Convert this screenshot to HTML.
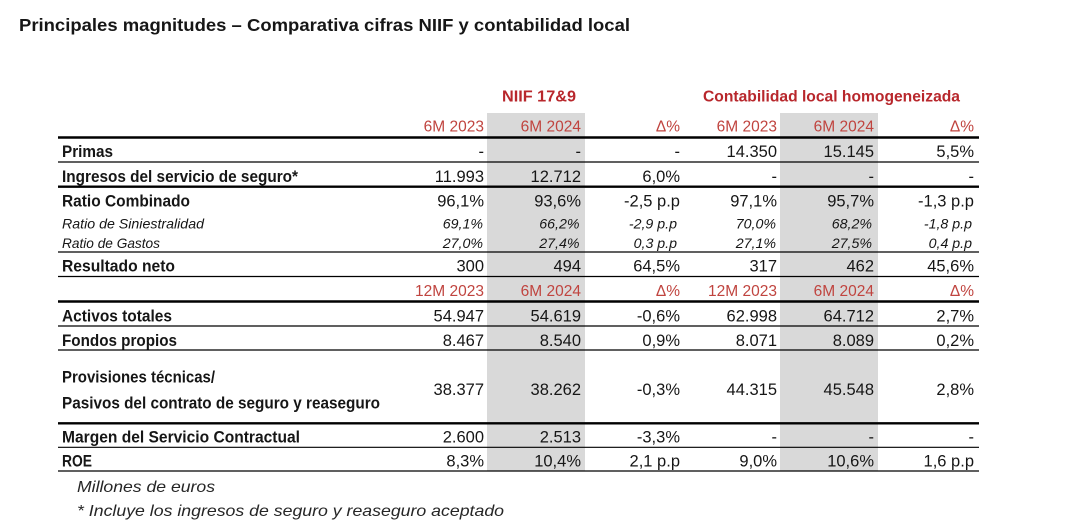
<!DOCTYPE html>
<html>
<head>
<meta charset="utf-8">
<style>
  html,body{margin:0;padding:0;background:#fff;}
  svg{display:block;}
  .t{font-family:"Liberation Sans",sans-serif;fill:#161616;}
  .lb{font-weight:bold;font-size:16.5px;}
  .li{font-style:italic;font-size:14px;}
  .n{font-size:16.5px;text-anchor:end;}
  .ni{font-size:14.2px;font-style:italic;text-anchor:end;}
  .h{font-size:15.5px;text-anchor:end;fill:#c0443f;}
  .hb{font-weight:bold;font-size:16px;fill:#b8272c;}
  .fn{font-style:italic;font-size:16px;fill:#262626;}
</style>
</head>
<body>
<svg width="1081" height="523" viewBox="0 0 1081 523" xmlns="http://www.w3.org/2000/svg">
  <rect x="0" y="0" width="1081" height="523" fill="#fff"/>
  <!-- Title -->
  <text class="t" x="19" y="31" font-weight="bold" font-size="17.5" textLength="611" lengthAdjust="spacingAndGlyphs">Principales magnitudes – Comparativa cifras NIIF y contabilidad local</text>

  <!-- Gray bands -->
  <rect x="487" y="113" width="98" height="358" fill="#d9d9d9"/>
  <rect x="780" y="113" width="98" height="358" fill="#d9d9d9"/>

  <!-- Group headers -->
  <text class="t hb" x="502" y="101.5" textLength="74" lengthAdjust="spacingAndGlyphs">NIIF 17&amp;9</text>
  <text class="t hb" x="703" y="101.5" textLength="257" lengthAdjust="spacingAndGlyphs">Contabilidad local homogeneizada</text>

  <!-- Sub headers row 1 -->
  <g class="t h">
    <text x="484" y="131.5">6M 2023</text>
    <text x="581" y="131.5">6M 2024</text>
    <text x="680" y="131.5">Δ%</text>
    <text x="777" y="131.5">6M 2023</text>
    <text x="874" y="131.5">6M 2024</text>
    <text x="974" y="131.5">Δ%</text>
  </g>

  <!-- Lines -->
  <g stroke="#000">
    <line x1="58" x2="979" y1="137.5" y2="137.5" stroke-width="2.4"/>
    <line x1="58" x2="979" y1="162" y2="162" stroke-width="1.2"/>
    <line x1="58" x2="979" y1="186.7" y2="186.7" stroke-width="2.4"/>
    <line x1="58" x2="979" y1="252" y2="252" stroke-width="1.2"/>
    <line x1="58" x2="979" y1="276.5" y2="276.5" stroke-width="1.2"/>
    <line x1="58" x2="979" y1="301.5" y2="301.5" stroke-width="2.4"/>
    <line x1="58" x2="979" y1="326" y2="326" stroke-width="1.2"/>
    <line x1="58" x2="979" y1="350" y2="350" stroke-width="1.2"/>
    <line x1="58" x2="979" y1="423.3" y2="423.3" stroke-width="2.4"/>
    <line x1="58" x2="979" y1="447.3" y2="447.3" stroke-width="1.2"/>
    <line x1="58" x2="979" y1="471" y2="471" stroke-width="1.2"/>
  </g>

  <!-- Labels -->
  <g class="t">
    <text class="lb" x="62" y="157" textLength="51" lengthAdjust="spacingAndGlyphs">Primas</text>
    <text class="lb" x="62" y="182" textLength="236" lengthAdjust="spacingAndGlyphs">Ingresos del servicio de seguro*</text>
    <text class="lb" x="62" y="206.5" textLength="128" lengthAdjust="spacingAndGlyphs">Ratio Combinado</text>
    <text class="li" x="62" y="228.5" textLength="142" lengthAdjust="spacingAndGlyphs">Ratio de Siniestralidad</text>
    <text class="li" x="62" y="248" textLength="98" lengthAdjust="spacingAndGlyphs">Ratio de Gastos</text>
    <text class="lb" x="62" y="271.5" textLength="113" lengthAdjust="spacingAndGlyphs">Resultado neto</text>
    <text class="lb" x="62" y="321.5" textLength="110" lengthAdjust="spacingAndGlyphs">Activos totales</text>
    <text class="lb" x="62" y="346" textLength="115" lengthAdjust="spacingAndGlyphs">Fondos propios</text>
    <text class="lb" x="62" y="382.3" textLength="153" lengthAdjust="spacingAndGlyphs">Provisiones técnicas/</text>
    <text class="lb" x="62" y="408.3" textLength="318" lengthAdjust="spacingAndGlyphs">Pasivos del contrato de seguro y reaseguro</text>
    <text class="lb" x="62" y="442.7" textLength="238" lengthAdjust="spacingAndGlyphs">Margen del Servicio Contractual</text>
    <text class="lb" x="62" y="466.7" textLength="30" lengthAdjust="spacingAndGlyphs">ROE</text>
  </g>

  <!-- Numbers -->
  <g class="t n">
    <!-- Primas -->
    <text x="484" y="157">-</text><text x="581" y="157">-</text><text x="680" y="157">-</text>
    <text x="777" y="157">14.350</text><text x="874" y="157">15.145</text><text x="974" y="157">5,5%</text>
    <!-- Ingresos -->
    <text x="484" y="182">11.993</text><text x="581" y="182">12.712</text><text x="680" y="182">6,0%</text>
    <text x="777" y="182">-</text><text x="874" y="182">-</text><text x="974" y="182">-</text>
    <!-- Ratio Combinado -->
    <text x="484" y="206.5">96,1%</text><text x="581" y="206.5">93,6%</text><text x="680" y="206.5">-2,5 p.p</text>
    <text x="777" y="206.5">97,1%</text><text x="874" y="206.5">95,7%</text><text x="974" y="206.5">-1,3 p.p</text>
    <!-- Resultado neto -->
    <text x="484" y="271.5">300</text><text x="581" y="271.5">494</text><text x="680" y="271.5">64,5%</text>
    <text x="777" y="271.5">317</text><text x="874" y="271.5">462</text><text x="974" y="271.5">45,6%</text>
    <!-- Activos -->
    <text x="484" y="321.5">54.947</text><text x="581" y="321.5">54.619</text><text x="680" y="321.5">-0,6%</text>
    <text x="777" y="321.5">62.998</text><text x="874" y="321.5">64.712</text><text x="974" y="321.5">2,7%</text>
    <!-- Fondos -->
    <text x="484" y="346">8.467</text><text x="581" y="346">8.540</text><text x="680" y="346">0,9%</text>
    <text x="777" y="346">8.071</text><text x="874" y="346">8.089</text><text x="974" y="346">0,2%</text>
    <!-- Provisiones -->
    <text x="484" y="395">38.377</text><text x="581" y="395">38.262</text><text x="680" y="395">-0,3%</text>
    <text x="777" y="395">44.315</text><text x="874" y="395">45.548</text><text x="974" y="395">2,8%</text>
    <!-- Margen -->
    <text x="484" y="442.7">2.600</text><text x="581" y="442.7">2.513</text><text x="680" y="442.7">-3,3%</text>
    <text x="777" y="442.7">-</text><text x="874" y="442.7">-</text><text x="974" y="442.7">-</text>
    <!-- ROE -->
    <text x="484" y="466.7">8,3%</text><text x="581" y="466.7">10,4%</text><text x="680" y="466.7">2,1 p.p</text>
    <text x="777" y="466.7">9,0%</text><text x="874" y="466.7">10,6%</text><text x="974" y="466.7">1,6 p.p</text>
  </g>

  <!-- Italic rows -->
  <g class="t ni">
    <text x="483" y="228.5">69,1%</text><text x="579.5" y="228.5">66,2%</text><text x="677" y="228.5">-2,9 p.p</text>
    <text x="776" y="228.5">70,0%</text><text x="872" y="228.5">68,2%</text><text x="972" y="228.5">-1,8 p.p</text>
    <text x="483" y="248">27,0%</text><text x="579.5" y="248">27,4%</text><text x="677" y="248">0,3 p.p</text>
    <text x="776" y="248">27,1%</text><text x="872" y="248">27,5%</text><text x="972" y="248">0,4 p.p</text>
  </g>

  <!-- Sub headers row 2 -->
  <g class="t h">
    <text x="484" y="296">12M 2023</text>
    <text x="581" y="296">6M 2024</text>
    <text x="680" y="296">Δ%</text>
    <text x="777" y="296">12M 2023</text>
    <text x="874" y="296">6M 2024</text>
    <text x="974" y="296">Δ%</text>
  </g>

  <!-- Footnotes -->
  <text class="t fn" x="77" y="492" textLength="138" lengthAdjust="spacingAndGlyphs">Millones de euros</text>
  <text class="t fn" x="77" y="516" textLength="427" lengthAdjust="spacingAndGlyphs">* Incluye los ingresos de seguro y reaseguro aceptado</text>
</svg>
</body>
</html>
